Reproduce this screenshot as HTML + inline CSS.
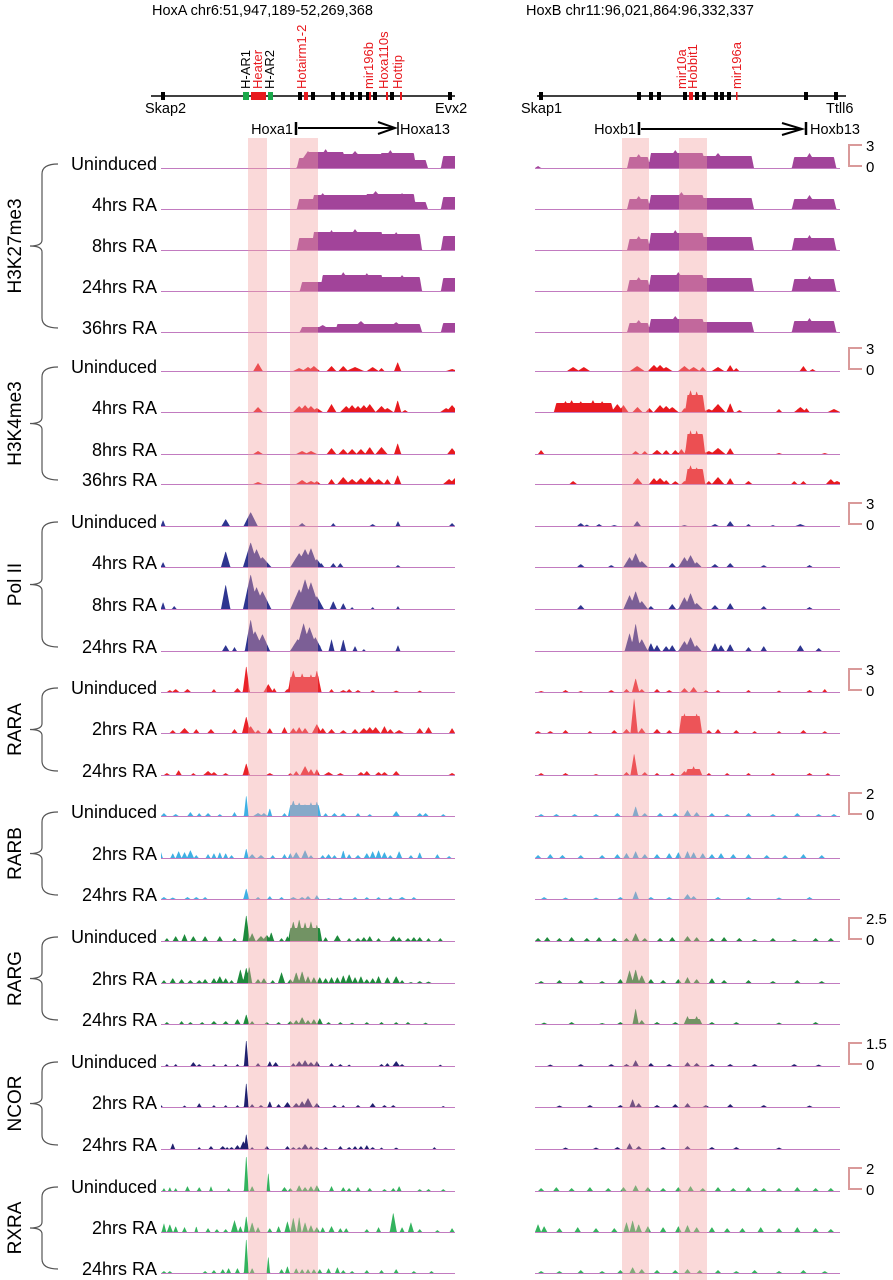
<!DOCTYPE html>
<html><head><meta charset="utf-8">
<style>
html,body{margin:0;padding:0;background:#fff;}
svg{display:block;font-family:"Liberation Sans",Arial,sans-serif;}
</style></head>
<body>
<svg id="fig" width="893" height="1280" viewBox="0 0 893 1280" xmlns="http://www.w3.org/2000/svg">
<text x="152" y="15" font-size="14.5">HoxA chr6:51,947,189-52,269,368</text>
<text x="526" y="15" font-size="14.5">HoxB chr11:96,021,864:96,332,337</text>
<g id="genes"></g>
<g id="tracks"></g>
<g id="shade"></g>
<g id="labels"></g>
</svg>
<script>
// ---- data: peaks [pos(0-100), height, halfwidth]; domains [start, end, height] ----
const k27_un_L=[[50,17,2],[56,19,2],[66,17,2.5],[78,18,2],[84,14,2]], k27_un_Ld=[[47,50,10],[50,62,16],[62,75,14],[75,86,15],[86,90,8],[96,100,12]];
const k27_4h_L=[[55,16,2],[73,18,2.5],[82,16,2]], k27_4h_Ld=[[47,52,10],[52,70,14],[70,86,15],[86,90,7],[96,100,12]];
const k27_8h_L=[[58,20,2],[66,21,2.5],[80,18,2]], k27_8h_Ld=[[47,52,12],[52,75,18],[75,88,16],[96,100,14]];
const k27_24h_L=[[62,19,2],[70,18,2],[82,16,2]], k27_24h_Ld=[[48,55,9],[55,75,16],[75,88,14],[96,100,13]];
const k27_36h_L=[[55,7,2],[68,11,2],[80,10,2]], k27_36h_Ld=[[48,60,5],[60,88,8],[96,100,9]];
const k27_un_R=[[1,2,0.5],[34,14,1.5],[46,18,2],[60,15,2],[90,15,1.5]], k27_un_Rd=[[31,37,11],[38,55,15],[55,71,12],[85,98,11]];
const k27_4h_R=[[34,13,1.5],[48,17,2],[90,14,1.5]], k27_4h_Rd=[[31,37,10],[38,55,14],[55,71,11],[85,98,10]];
const k27_8h_R=[[34,14,1.5],[46,20,2],[90,15,1.5]], k27_8h_Rd=[[31,37,11],[38,55,17],[55,71,13],[85,98,12]];
const k27_24h_R=[[34,14,1.5],[47,19,2],[90,15,1.5]], k27_24h_Rd=[[31,37,11],[38,55,16],[55,71,13],[85,98,12]];
const k27_36h_R=[[34,12,1.5],[46,16,2],[90,14,1.5]], k27_36h_Rd=[[31,37,9],[38,55,13],[55,71,10],[85,98,11]];

const k4_un_L=[[33,8,0.8],[47,3,1],[50,4,1],[52,5,1],[58,5,0.8],[62,5,0.8],[66,4,1.5],[72,4,1],[75,3,0.5],[80.5,9,0.6],[99,2,1]];
const k4_4h_L=[[33,5,0.8],[47,6,1],[49,7,1],[51,6,1],[53,4,1],[58,8,0.8],[63,6,1],[65,7,1],[67,6,1],[69,7,1],[71,8,1],[75,6,1],[77,4,1],[80.5,12,0.6],[83,2,0.5],[97,4,1],[99,7,1]];
const k4_8h_L=[[33,3,0.8],[48,3,1],[51,3,1],[58,6,0.8],[62,5,0.8],[65,5,0.8],[68,5,0.8],[71,7,0.8],[75,7,1],[80.5,11,0.6],[99,6,0.8]];
const k4_36h_L=[[33,2,0.8],[48,4,1],[51,3,1],[53,3,0.6],[58,5,0.6],[62,7,1],[65,5,1],[68,6,1],[71,7,1],[74,5,1],[77,5,0.6],[80.5,9,0.6],[98,5,1],[100,6,1]];
const k4_un_R=[[12.5,4,1],[16,4,1],[33.5,5,1.2],[39,6,1],[41,6,1],[43,4,1],[49,5,1],[52,4,1],[55,4,0.6],[60,4,1],[64,6,0.6],[66,3,0.5],[88,5,0.6],[91,2,0.5]];
const k4_4h_R=[[10,11,1],[12,12,1],[15,11,1],[19,12,1],[22,11,1],[27,8,1],[29,7,0.8],[33.6,5,0.8],[37.5,4,0.6],[41,7,1],[43,6,1],[45,5,1],[49,4,0.5],[51,22,1],[53,21,1],[57,3,1],[60,8,1.2],[64,9,0.6],[67,2,0.5],[80,3,0.5],[87,5,1],[89,4,0.5],[98,3,1]], k4_4h_Rd=[[7,25,9],[50,55,17]];
const k4_8h_R=[[2,4,0.5],[33,3,0.6],[36,3,0.5],[40,4,0.8],[43,4,0.6],[46,4,0.6],[48,5,0.6],[51,24,1],[53,24,1],[57,3,1],[60,6,1.2],[64,6,0.6],[80,1,0.5],[95,1,0.5]], k4_8h_Rd=[[50,55,20]];
const k4_36h_R=[[12.5,3,0.6],[33.6,6,0.8],[39,6,0.8],[41,6,1],[43,4,0.6],[46,3,0.6],[49,3,0.5],[51,19,1],[53,17,1],[57,3,0.5],[60,7,1],[64,6,0.6],[70,3,0.6],[85,3,0.5],[88,3,0.5],[97,5,0.8],[99,3,1]], k4_36h_Rd=[[50,55,15]];

const pol_un_L=[[0.7,6,0.4],[22,7,0.7],[30.5,14,1.2],[48,3,0.6],[58.6,3,0.4],[72,2,0.5],[80.6,5,0.4],[99,3,0.5]];
const pol_4h_L=[[0.7,5,0.4],[22,16,0.8],[30.5,25,1.3],[32.5,18,1.3],[34.5,10,1.5],[47,14,1.5],[49,18,1.5],[51,19,1.2],[53,8,1],[54.5,4,0.5],[58.6,4,0.5],[61,4,0.5],[80.6,2,0.4]];
const pol_8h_L=[[0.7,7,0.4],[4.5,3,0.4],[22,25,0.8],[30.5,35,1.3],[32.5,22,1.5],[34.5,18,1.5],[47,20,1.5],[49,30,1.5],[51,27,1.5],[53,13,1.2],[58.6,8,0.6],[62,6,0.5],[65,2,0.3],[72,2,0.3],[80.6,3,0.3]];
const pol_24h_L=[[22,6,0.6],[25,4,0.4],[30.5,32,1],[32,20,1.5],[34.5,17,1.3],[46.5,12,1.3],[48.5,28,1.3],[50.5,24,1.5],[52.5,14,1.2],[54,6,0.4],[58,12,0.5],[62,12,0.5],[66,5,0.4],[69,2,0.3],[80.6,6,0.4]];
const pol_un_R=[[15,3,0.6],[17,1.5,0.4],[21,2,0.5],[26,1,0.5],[33.5,5,0.6],[49,1,0.5],[59,2,0.6],[64,5,0.6],[70,2,0.4],[78,1,0.4],[87,2,0.8]];
const pol_4h_R=[[15,3,0.6],[25,2,0.5],[31,10,1],[33,14,1],[35,6,1],[45,4,0.6],[49,10,1],[51,12,1],[53,5,0.8],[59,3,0.6],[64,4,0.6],[75,2,0.5],[90,2,0.5]];
const pol_8h_R=[[15,4,0.6],[31,14,1],[33,18,1],[35,8,1],[38,3,0.5],[45,5,0.6],[49,12,1],[51,16,1],[53,6,1],[59,4,0.6],[64,6,0.6],[75,3,0.5],[90,2,0.5]];
const pol_24h_R=[[31,18,0.8],[33,28,0.8],[35,12,1],[38,8,0.6],[40,6,0.6],[43,5,0.6],[45,6,0.6],[49,10,1],[51,14,1],[53,6,0.8],[59,8,0.6],[61,6,0.6],[64,7,0.6],[70,4,0.5],[75,5,0.5],[87,6,0.6],[93,3,0.5]];

const rara_un_L=[[3,2,0.5],[5,3,0.6],[9,3,0.6],[18,3,0.4],[26,4,0.6],[29,27,0.6],[36.5,8,0.8],[38.5,4,0.4],[43,3,0.5],[45,22,1],[48,19,1],[51,18,1],[53,22,0.8],[58,3,0.4],[62,2,0.6],[64,3,0.5],[67,2,0.5],[72,2,0.4],[80,1.5,0.5],[88,1.5,0.4]], rara_un_Ld=[[44,53.6,15]];
const rara_2h_L=[[4,3,0.5],[8,5,0.8],[12,4,0.5],[17,4,0.6],[25,4,0.5],[29,17,0.7],[30.5,7,0.8],[33,3,0.5],[37,5,0.5],[42,6,0.5],[45,5,0.6],[47,6,0.6],[49,5,0.6],[53,9,0.8],[55,5,0.6],[58,4,0.6],[62,3,0.6],[66,4,0.6],[69,5,0.8],[71,6,0.8],[73,6,0.8],[76,7,0.6],[78,4,0.6],[81,3,0.8],[88,5,0.6],[91,6,0.6],[99,5,0.5]];
const rara_24h_L=[[2,2,0.5],[6,5,0.5],[11,2,0.4],[16,4,0.8],[18,3,0.6],[22,2,0.5],[29,12,0.6],[37,2,0.6],[44,2,0.4],[46,4,0.5],[49,9,0.8],[51,6,0.6],[53,6,0.5],[57,3,0.8],[61,2,0.6],[68,3,0.6],[70,4,0.6],[74,3,0.6],[76,3,0.6],[80,4,0.6],[99,2,0.6]];
const rara_un_R=[[2,1,0.5],[10,2,0.5],[15,1,0.4],[25,2,0.5],[30,3,0.5],[33,14,0.6],[35,3,0.5],[40,3,0.5],[44,2,0.5],[49,4,0.6],[52,5,0.6],[56,2,0.4],[60,2,0.4],[70,2,0.4],[80,1.5,0.4],[90,2,0.5],[95,3,0.4]];
const rara_2h_R=[[1,2,0.5],[5,2,0.5],[10,3,0.5],[18,2,0.4],[26,3,0.5],[30,4,0.6],[32.5,36,0.6],[35,5,0.6],[40,4,0.6],[44,3,0.5],[49,20,0.8],[53,20,0.8],[57,3,0.5],[60,4,0.5],[66,3,0.5],[72,2,0.4],[80,2,0.4],[88,3,0.5],[95,2,0.4]], rara_2h_Rd=[[48,54,17]];
const rara_24h_R=[[2,2,0.5],[10,2,0.5],[20,1,0.4],[30,3,0.5],[32.5,22,0.6],[36,3,0.5],[40,2,0.4],[45,2,0.4],[49,4,0.6],[52,9,0.6],[57,2,0.4],[63,2,0.4],[70,2,0.4],[78,2,0.4],[90,2,0.5],[96,2,0.4]], rara_24h_Rd=[[50,54,6]];

const rarb_un_L=[[1,3,0.5],[5,2,0.5],[10,4,0.5],[13,3,0.4],[16,3,0.5],[20,2,0.4],[25,4,0.4],[29,22,0.4],[33,3,0.8],[35,3,0.6],[37,8,0.4],[42,3,0.4],[45,16,0.8],[47,14,0.8],[49,12,0.8],[51,14,0.8],[53,15,0.6],[56,3,0.4],[59,3,0.5],[62,3,0.5],[67,3,0.4],[71,2,0.4],[80,5,0.6],[88,3,0.5],[90,3,0.5],[96,2,0.4]], rarb_un_Ld=[[44,53.6,11]];
const rarb_2h_L=[[0,6,0.3],[4,5,0.4],[6,7,0.5],[8,6,0.5],[10,8,0.6],[12,3,0.4],[16,4,0.4],[18,5,0.4],[20,6,0.4],[22,5,0.4],[24,3,0.4],[29,10,0.4],[31,4,0.6],[34,3,0.6],[38,3,0.4],[42,4,0.4],[44,5,0.4],[46,6,0.6],[49,8,0.6],[51,3,0.4],[55,3,0.4],[57,4,0.5],[59,3,0.4],[62,8,0.4],[64,4,0.4],[67,3,0.5],[70,5,0.5],[72,7,0.5],[74,8,0.5],[76,6,0.5],[78,3,0.4],[81,7,0.5],[85,3,0.4],[88,6,0.4],[94,4,0.4],[98,2,0.4]];
const rarb_24h_L=[[1,2,0.5],[4,1.5,0.5],[9,2,0.5],[12,2,0.5],[15,2,0.4],[29,11,0.5],[33,2,0.4],[37,3,0.4],[41,2,0.4],[45,2,0.6],[48,2,0.5],[50,3,0.5],[53,4,0.4],[57,1,0.4],[61,1.5,0.4],[66,2,0.4],[70,2,0.4],[74,2,0.4],[78,2,0.4],[82,2,0.6],[86,2,0.4]];
const rarb_un_R=[[2,2,0.5],[7,2,0.5],[13,2,0.5],[20,2,0.5],[27,3,0.5],[33,10,0.5],[36,3,0.5],[41,3,0.5],[46,3,0.5],[50,6,0.6],[53,4,0.5],[58,3,0.5],[63,2,0.5],[70,3,0.5],[78,2,0.5],[86,3,0.5],[93,2,0.5],[98,2,0.5]];
const rarb_2h_R=[[1,3,0.5],[5,4,0.5],[9,3,0.5],[15,3,0.5],[22,3,0.5],[27,4,0.5],[30,5,0.5],[33,7,0.5],[36,4,0.5],[40,4,0.5],[44,5,0.5],[47,6,0.5],[50,7,0.5],[52,6,0.5],[55,5,0.5],[58,4,0.5],[61,5,0.5],[65,4,0.5],[70,4,0.5],[76,3,0.5],[82,3,0.5],[88,4,0.5],[94,3,0.5]];
const rarb_24h_R=[[3,2,0.5],[10,1.5,0.5],[20,1.5,0.5],[28,2,0.5],[33,8,0.5],[38,2,0.5],[44,2,0.5],[50,5,0.6],[52,3,0.5],[60,2,0.5],[70,2,0.5],[80,1.5,0.5],[90,2,0.5]];

const rarg_un_L=[[2,3,0.4],[5,5,0.5],[8,7,0.5],[11,5,0.5],[15,5,0.5],[20,5,0.5],[25,3,0.4],[29,27,0.6],[31,8,0.6],[34,5,0.8],[36,6,0.8],[37.5,9,0.5],[41,3,0.4],[43,5,0.4],[45,20,0.8],[47,22,0.8],[49,19,0.8],[51,20,0.8],[53,17,0.6],[56,4,0.4],[60,6,0.6],[64,3,0.4],[67,3,0.5],[69,4,0.5],[71,5,0.5],[74,3,0.4],[79,5,0.6],[81,4,0.5],[84,3,0.5],[86,4,0.5],[88,4,0.5],[91,3,0.4],[95,3,0.4]], rarg_un_Ld=[[44,54,13]];
const rarg_2h_L=[[1,3,0.4],[4,5,0.5],[7,4,0.5],[10,3,0.5],[13,3,0.5],[15,4,0.5],[18,5,0.5],[20,7,0.6],[22,5,0.5],[24,3,0.4],[27,14,0.6],[29,16,0.6],[30,17,0.5],[33,4,0.5],[35,5,0.5],[38,3,0.4],[41,11,0.6],[44,4,0.5],[46,11,0.6],[48,12,0.6],[50,7,0.5],[52,6,0.5],[54,6,0.5],[56,5,0.5],[58,6,0.5],[60,6,0.5],[62,8,0.5],[64,9,0.6],[66,6,0.5],[68,7,0.5],[70,4,0.5],[72,5,0.5],[74,7,0.5],[77,6,0.5],[80,7,0.6],[82,3,0.4],[85,1,0.4],[88,2,0.5],[91,1.5,0.5]];
const rarg_24h_L=[[2,2,0.4],[7,3,0.4],[10,2,0.4],[14,2,0.4],[18,3,0.5],[22,3,0.5],[26,5,0.5],[29,10,0.5],[31,3,0.4],[36,2,0.4],[40,2,0.4],[44,3,0.5],[46,4,0.5],[48,7,0.6],[50,4,0.5],[52,5,0.5],[54,6,0.5],[57,2,0.4],[61,2,0.4],[65,1.5,0.4],[70,2,0.4],[75,2,0.4],[80,2,0.4],[84,2,0.4],[90,1.5,0.4]];
const rarg_un_R=[[1,3,0.5],[4,4,0.5],[8,3,0.5],[12,4,0.5],[17,3,0.5],[21,4,0.5],[26,3,0.5],[30,3,0.5],[33,8,0.6],[36,3,0.5],[41,3,0.5],[45,4,0.5],[50,5,0.6],[53,4,0.5],[58,3,0.5],[62,4,0.5],[67,3,0.5],[72,2,0.5],[78,3,0.5],[85,2,0.5],[92,3,0.5],[97,3,0.5]];
const rarg_2h_R=[[2,2,0.5],[8,3,0.5],[15,3,0.5],[22,2,0.5],[28,4,0.5],[31,13,0.6],[33,14,0.6],[35,8,0.6],[38,4,0.5],[42,3,0.5],[47,4,0.5],[50,6,0.5],[53,4,0.5],[58,5,0.5],[62,3,0.5],[70,3,0.5],[78,2,0.5],[86,3,0.5],[94,2,0.5]];
const rarg_24h_R=[[3,1.5,0.5],[12,2,0.5],[22,1,0.5],[28,2,0.5],[33,16,0.5],[35,4,0.5],[40,2,0.5],[46,2,0.5],[50,8,0.6],[53,8,0.6],[58,2,0.5],[66,2,0.5],[80,1.5,0.5],[92,2,0.5]], rarg_24h_Rd=[[50,54,5]];

const ncor_un_L=[[2,2,0.3],[5,2,0.3],[11,4,0.5],[13,2,0.4],[18,2,0.3],[22,2,0.3],[26,2,0.3],[29,28,0.4],[33,3,0.4],[37,5,0.4],[39,4,0.5],[45,3,0.4],[47,5,0.6],[49,6,0.6],[51,4,0.6],[53,5,0.5],[58,3,0.4],[61,2,0.4],[64,1.5,0.3],[75,2,0.4],[77,3,0.4],[80,5,0.6],[82,2,0.4],[95,1.5,0.3]];
const ncor_2h_L=[[0,2,0.3],[8,1.5,0.3],[13,4,0.4],[18,2,0.3],[22,2,0.3],[26,2,0.3],[29,26,0.4],[31,3,0.4],[34,2,0.4],[37,6,0.4],[40,3,0.4],[43,5,0.6],[46,4,0.6],[48,6,0.6],[50,9,0.8],[53,4,0.5],[59,2,0.4],[62,2,0.3],[67,2,0.4],[72,4,0.5],[76,2,0.4],[79,2,0.4],[96,1,0.3]];
const ncor_24h_L=[[4,6,0.4],[13,2,0.3],[17,3,0.4],[21,3,0.5],[22.5,2,0.3],[24,2,0.4],[26,4,0.5],[28,8,0.6],[29,16,0.4],[31,2,0.3],[36,3,0.4],[43,3,0.4],[45,2,0.4],[47,2,0.4],[49,5,0.6],[51,3,0.4],[53,2,0.4],[56,2,0.4],[61,3,0.4],[64,2,0.4],[66,3,0.4],[68,3,0.4],[70,4,0.4],[72,2,0.4],[75,1.5,0.3],[80,1.5,0.4],[93,2,0.3]];
const ncor_un_R=[[5,1.5,0.5],[15,2,0.5],[25,2,0.5],[30,2,0.5],[33,6,0.5],[38,3,0.5],[44,2,0.5],[50,4,0.5],[53,3,0.5],[58,2,0.5],[64,2,0.5],[72,2,0.5],[85,2,0.5],[93,1.5,0.5]];
const ncor_2h_R=[[8,1.5,0.5],[18,2,0.5],[28,2,0.5],[32,8,0.5],[34,4,0.5],[40,2,0.5],[46,3,0.5],[50,4,0.5],[56,2,0.5],[64,3,0.5],[75,2,0.5],[90,1.5,0.5]];
const ncor_24h_R=[[10,1.5,0.5],[20,1.5,0.5],[27,2,0.5],[31,6,0.5],[34,3,0.5],[42,2,0.5],[50,3,0.5],[58,2,0.5],[66,2,0.5],[80,1.5,0.5]];

const rxra_un_L=[[1,3,0.3],[3,4,0.3],[5,3,0.3],[9,5,0.4],[13,4,0.4],[17,5,0.3],[23,3,0.3],[29,38,0.4],[31,5,0.4],[36.5,20,0.3],[42,4,0.5],[44,3,0.4],[47,6,0.5],[49,4,0.5],[51,5,0.5],[53,6,0.5],[58,5,0.4],[62,4,0.4],[64,3,0.4],[67,4,0.4],[71,3,0.4],[76,2,0.4],[79,3,0.4],[81,5,0.4],[88,2,0.4],[91,2,0.4],[96,2,0.4]];
const rxra_2h_L=[[1,9,0.4],[3,8,0.5],[5,6,0.4],[8,5,0.4],[12,6,0.3],[16,4,0.4],[19,3,0.4],[22,3,0.4],[25,12,0.6],[27,6,0.4],[29,17,0.4],[31,10,0.5],[33,5,0.4],[37,4,0.4],[40,6,0.4],[43,11,0.5],[45,15,0.5],[47,16,0.4],[49,10,0.5],[51,7,0.5],[53,5,0.5],[55,5,0.4],[58,6,0.5],[61,4,0.4],[63,4,0.4],[70,3,0.4],[74,5,0.4],[79,20,0.6],[82,5,0.4],[85,10,0.5],[88,3,0.4],[94,2,0.4],[99,4,0.4]];
const rxra_24h_L=[[1,2,0.4],[3,2,0.4],[15,2,0.4],[18,3,0.4],[21,4,0.4],[23,5,0.4],[26,5,0.4],[29,37,0.4],[31,5,0.4],[36.5,18,0.3],[41,4,0.4],[43,7,0.4],[46,5,0.4],[48,4,0.4],[50,4,0.4],[52,4,0.4],[54,4,0.4],[57,5,0.4],[60,6,0.4],[62,3,0.4],[65,2,0.4],[70,3,0.4],[75,3,0.4],[80,4,0.4],[86,2,0.4],[92,2,0.4]];
const rxra_un_R=[[2,3,0.5],[7,4,0.5],[12,3,0.5],[18,4,0.5],[24,3,0.5],[29,4,0.5],[33,6,0.5],[37,4,0.5],[42,3,0.5],[47,4,0.5],[51,5,0.5],[55,3,0.5],[60,4,0.5],[65,3,0.5],[70,4,0.5],[75,3,0.5],[80,3,0.5],[86,4,0.5],[92,3,0.5],[97,3,0.5]];
const rxra_2h_R=[[1,8,0.5],[3,6,0.5],[8,4,0.5],[14,5,0.5],[20,4,0.5],[26,4,0.5],[30,10,0.5],[32,12,0.5],[34,8,0.5],[37,6,0.5],[42,5,0.5],[47,6,0.5],[50,7,0.5],[53,5,0.5],[58,5,0.5],[63,4,0.5],[68,4,0.5],[74,5,0.5],[80,4,0.5],[86,5,0.5],[92,4,0.5],[97,3,0.5]];
const rxra_24h_R=[[2,2,0.5],[8,2,0.5],[15,3,0.5],[22,2,0.5],[28,3,0.5],[32,6,0.5],[35,4,0.5],[40,3,0.5],[46,3,0.5],[50,4,0.5],[54,3,0.5],[60,3,0.5],[66,2,0.5],[72,3,0.5],[80,2,0.5],[88,3,0.5],[95,2,0.5]];

const groupNames=["H3K27me3","H3K4me3","Pol II","RARA","RARB","RARG","NCOR","RXRA"];
const scaleTop=["3","3","3","3","2","2.5","1.5","2"];

const NS="http://www.w3.org/2000/svg";
function el(tag,attrs,parent,txt){const e=document.createElementNS(NS,tag);for(const k in attrs)e.setAttribute(k,attrs[k]);if(txt!=null)e.textContent=txt;parent.appendChild(e);return e;}
const panels={L:{x0:161,x1:455},R:{x0:535,x1:840}};
const WF=2.0; // rendering width factor for peaks
function value(pos,peaks,doms){let v=0;
  for(const [c,h,w] of peaks){const t=h*Math.max(0,1-Math.abs(pos-c)/(w*WF));if(t>v)v=t;}
  for(const [s,e,h] of doms){let t=0;if(pos>=s&&pos<=e)t=h;else if(pos<s&&pos>s-0.8)t=h*(1-(s-pos)/0.8);else if(pos>e&&pos<e+0.8)t=h*(1-(pos-e)/0.8);if(t>v)v=t;}
  return v;}

const groups=[
 {color:"#a2449a",rows:[["Uninduced",168,k27_un_L,k27_un_Ld,k27_un_R,k27_un_Rd],["4hrs RA",209,k27_4h_L,k27_4h_Ld,k27_4h_R,k27_4h_Rd],["8hrs RA",250,k27_8h_L,k27_8h_Ld,k27_8h_R,k27_8h_Rd],["24hrs RA",291,k27_24h_L,k27_24h_Ld,k27_24h_R,k27_24h_Rd],["36hrs RA",332,k27_36h_L,k27_36h_Ld,k27_36h_R,k27_36h_Rd]]},
 {color:"#e8191e",rows:[["Uninduced",371,k4_un_L,[],k4_un_R,[]],["4hrs RA",412,k4_4h_L,[],k4_4h_R,k4_4h_Rd],["8hrs RA",454,k4_8h_L,[],k4_8h_R,k4_8h_Rd],["36hrs RA",484,k4_36h_L,[],k4_36h_R,k4_36h_Rd]]},
 {color:"#2e3590",rows:[["Uninduced",526,pol_un_L,[],pol_un_R,[]],["4hrs RA",567,pol_4h_L,[],pol_4h_R,[]],["8hrs RA",609,pol_8h_L,[],pol_8h_R,[]],["24hrs RA",651,pol_24h_L,[],pol_24h_R,[]]]},
 {color:"#ea2228",rows:[["Uninduced",692,rara_un_L,rara_un_Ld,rara_un_R,[]],["2hrs RA",733,rara_2h_L,[],rara_2h_R,rara_2h_Rd],["24hrs RA",775,rara_24h_L,[],rara_24h_R,rara_24h_Rd]]},
 {color:"#3fb0e4",rows:[["Uninduced",816,rarb_un_L,rarb_un_Ld,rarb_un_R,[]],["2hrs RA",858,rarb_2h_L,[],rarb_2h_R,[]],["24hrs RA",899,rarb_24h_L,[],rarb_24h_R,[]]]},
 {color:"#1d8a3c",rows:[["Uninduced",941,rarg_un_L,rarg_un_Ld,rarg_un_R,[]],["2hrs RA",983,rarg_2h_L,[],rarg_2h_R,[]],["24hrs RA",1024,rarg_24h_L,[],rarg_24h_R,rarg_24h_Rd]]},
 {color:"#20206e",rows:[["Uninduced",1066,ncor_un_L,[],ncor_un_R,[]],["2hrs RA",1107,ncor_2h_L,[],ncor_2h_R,[]],["24hrs RA",1149,ncor_24h_L,[],ncor_24h_R,[]]]},
 {color:"#33b35e",rows:[["Uninduced",1191,rxra_un_L,[],rxra_un_R,[]],["2hrs RA",1232,rxra_2h_L,[],rxra_2h_R,[]],["24hrs RA",1273,rxra_24h_L,[],rxra_24h_R,[]]]}
];

const tracksG=document.getElementById('tracks'), labelsG=document.getElementById('labels');
function drawSignal(p,base,peaks,doms,color,name){
  const P=panels[p];let d=`M${P.x0},${base}`;
  for(let x=P.x0;x<=P.x1;x+=0.5){const pos=(x-P.x0)/(P.x1-P.x0)*100;d+=`L${x.toFixed(1)},${(base-value(pos,peaks,doms)).toFixed(1)}`;}
  d+=`L${P.x1},${base}Z`;
  const pa=el('path',{d:d,fill:color},tracksG);
  
  
  const ln=el('line',{x1:P.x0,x2:P.x1,y1:base+0.5,y2:base+0.5,stroke:"#c27bc0","stroke-width":1},tracksG);
  
  
}
groups.forEach((g,gi)=>{
  const slug=groupNames[gi].toLowerCase().replace(/\s+/g,'-');
  g.rows.forEach(r=>{
    const rs=r[0].toLowerCase().replace(/\s+/g,'-');
    drawSignal('L',r[1],r[2],r[3],g.color,slug+'-'+rs+'-hoxa-signal');
    drawSignal('R',r[1],r[4],r[5],g.color,slug+'-'+rs+'-hoxb-signal');
    const t=el('text',{x:157,y:r[1]+2,"font-size":18,"text-anchor":"end"},labelsG,r[0]);
    
    
  });
  const top=g.rows[0][1]-4, bot=g.rows[g.rows.length-1][1]-4, mid=(top+bot)/2;
  const br=el('path',{d:`M58,${top} Q42,${top} 42,${top+10} L42,${mid-6} Q42,${mid} 30,${mid} Q42,${mid} 42,${mid+6} L42,${bot-10} Q42,${bot} 58,${bot}`,fill:"none",stroke:"#555","stroke-width":1.2},labelsG);
  
  
  const gl=el('text',{x:0,y:0,"font-size":19,"text-anchor":"middle",transform:`translate(21,${mid}) rotate(-90)`},labelsG,groupNames[gi]);
  
  
  const b0=g.rows[0][1]-2, b1=b0-21;
  const sb=el('path',{d:`M862,${b1} L849,${b1} L849,${b0} L862,${b0}`,fill:"none",stroke:"#d99a9a","stroke-width":2},labelsG);
  
  
  const st=el('text',{x:866,y:b1+6,"font-size":15},labelsG,scaleTop[gi]);
  
  
  const sz=el('text',{x:866,y:b0+6,"font-size":15},labelsG,"0");
  
  
});

const shade=document.getElementById('shade');
[[248,267],[290,318],[622,649],[679,707]].forEach((s,i)=>{
  const r=el('rect',{x:s[0],y:138,width:s[1]-s[0],height:1142,fill:"#f2a0a0","fill-opacity":0.4},shade);
  
  
});

const genes=document.getElementById('genes');
function line(x1,y1,x2,y2,w,c,name){const l=el('line',{x1,y1,x2,y2,stroke:c||"#000","stroke-width":w},genes);}
function box(x,w,c,name){const r=el('rect',{x:x,y:92,width:w,height:8,fill:c},genes);}
function vlabel(x,txt,c,name){const t=el('text',{x:0,y:0,"font-size":13,fill:c,transform:`translate(${x},89) rotate(-90)`},genes,txt);}
function hlabel(x,y,txt,anchor,name,size){const t=el('text',{x:x,y:y,"font-size":size||14.5,"text-anchor":anchor},genes,txt);}
line(151,96,455,96,1.5,"#000",'hoxa-locus-line');
[163,300,313,333,343,352,360,368,375,392,450].forEach((x,i)=>box(x-2,4,"#000",'hoxa-exon-'+i));
box(243,6,"#1aa84a",'h-ar1-box');box(251,15,"#e8191e",'heater-box');box(268,5,"#1aa84a",'h-ar2-box');
box(304,4,"#e8191e",'hotairm1-box');box(369,2,"#e8191e",'mir196b-box');box(386,2,"#e8191e",'hoxa110s-box');box(400,2,"#e8191e",'hottip-box');
vlabel(250,"H-AR1","#000",'h-ar1-label');vlabel(262,"Heater","#e8191e",'heater-label');vlabel(274,"H-AR2","#000",'h-ar2-label');
vlabel(306,"Hotairm1-2","#e8191e",'hotairm1-label');vlabel(373,"mir196b","#e8191e",'mir196b-label');vlabel(388,"Hoxa110s","#e8191e",'hoxa110s-label');vlabel(402,"Hottip","#e8191e",'hottip-label');
hlabel(145,113,"Skap2","start",'skap2-label');hlabel(435,113,"Evx2","start",'evx2-label');
hlabel(293,134,"Hoxa1","end",'hoxa1-label');line(296,122,296,135,2.5,"#000",'hoxa1-bar');
line(298,128,392,128,2,"#000",'hoxa-arrow');el('path',{d:"M378,122 L395,128 L378,134",fill:"none",stroke:"#000","stroke-width":2},genes);
line(398,122,398,135,1.5,"#000",'hoxa13-bar');hlabel(400,134,"Hoxa13","start",'hoxa13-label');

line(537,96,846,96,1.5,"#000",'hoxb-locus-line');
[541,639,651,659,685,697,704,716,722,729,806,836].forEach((x,i)=>box(x-2,4,"#000",'hoxb-exon-'+i));
box(689,4,"#e8191e",'hobbit1-box');box(736,1.5,"#e8191e",'mir196a-box');
vlabel(686,"mir10a","#e8191e",'mir10a-label');vlabel(697,"Hobbit1","#e8191e",'hobbit1-label');vlabel(741,"mir196a","#e8191e",'mir196a-label');
hlabel(521,113,"Skap1","start",'skap1-label');hlabel(826,113,"Ttll6","start",'ttll6-label');
hlabel(636,134,"Hoxb1","end",'hoxb1-label');line(639,122,639,135,2.5,"#000",'hoxb1-bar');
line(641,129,800,129,2,"#000",'hoxb-arrow');el('path',{d:"M782,123 L802,129 L782,135",fill:"none",stroke:"#000","stroke-width":2},genes);
line(806,122,806,135,2.5,"#000",'hoxb13-bar');hlabel(810,134,"Hoxb13","start",'hoxb13-label');
</script>
</body></html>
